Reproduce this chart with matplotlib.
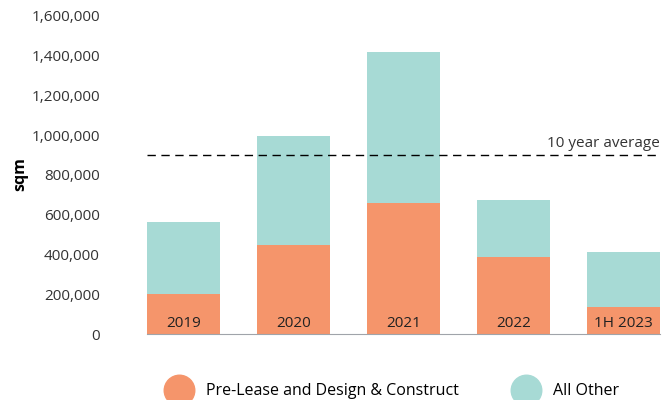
import numpy as np
import matplotlib.pyplot as plt
from matplotlib.lines import Line2D

years = ["2019", "2020", "2021", "2022", "1H 2023"]
pre_lease = [203000, 448000, 661000, 389000, 136000]
all_other = [360000, 548000, 758000, 285000, 277000]
ten_year_avg = 900000

orange = "#F5956B"
teal = "#A7DAD5"

plt.rcParams['font.family'] = ['Open Sans', 'DejaVu Sans']

fig = plt.figure(figsize=(6.63, 4.0), dpi=100)
ax = fig.add_axes([0.222, 0.165, 0.773, 0.795])

x = np.arange(len(years))
ax.bar(x, pre_lease, width=0.66, color=orange)
ax.bar(x, all_other, width=0.66, bottom=pre_lease, color=teal)

for i, lab in enumerate(years):
    ax.annotate(lab, (x[i], 0), xytext=(0, 2.5), textcoords='offset points',
                ha='center', va='bottom', fontsize=11, color='#222222')

# 10 year average line
ax.axhline(ten_year_avg, color='black', lw=1, ls=(0, (6, 4)))
ax.annotate("10 year average", (1, ten_year_avg), xycoords=('axes fraction', 'data'),
            xytext=(0, 3), textcoords='offset points', ha='right', va='bottom',
            fontsize=11, color='#333333')

ax.set_xlim(-0.33, len(years) - 1 + 0.33)
ax.set_ylim(0, 1600000)
ax.set_yticks(np.arange(0, 1600001, 200000))
ax.yaxis.set_major_formatter(plt.FuncFormatter(lambda v, p: f"{int(v):,}"))
ax.set_xticks([])
ax.tick_params(axis='y', length=0, labelsize=11, labelcolor='#333333', pad=34)
for s in ['top', 'right', 'left']:
    ax.spines[s].set_visible(False)
ax.spines['bottom'].set_color('#A0A4AA')
fig.text(20 / 663, 0.565, "sqm", rotation=90, ha='center', va='center',
         fontsize=11.5, fontweight='bold')

handles = [Line2D([], [], ls='', marker='o', markersize=22, color=orange),
           Line2D([], [], ls='', marker='o', markersize=22, color=teal)]
fig.legend(handles, ["Pre-Lease and Design & Construct", "All Other"],
           loc='center', bbox_to_anchor=(0.59, 0.022), ncol=2, frameon=False,
           fontsize=11.5, handletextpad=0.7, columnspacing=3.2)

fig.savefig("out.png", dpi=100)
